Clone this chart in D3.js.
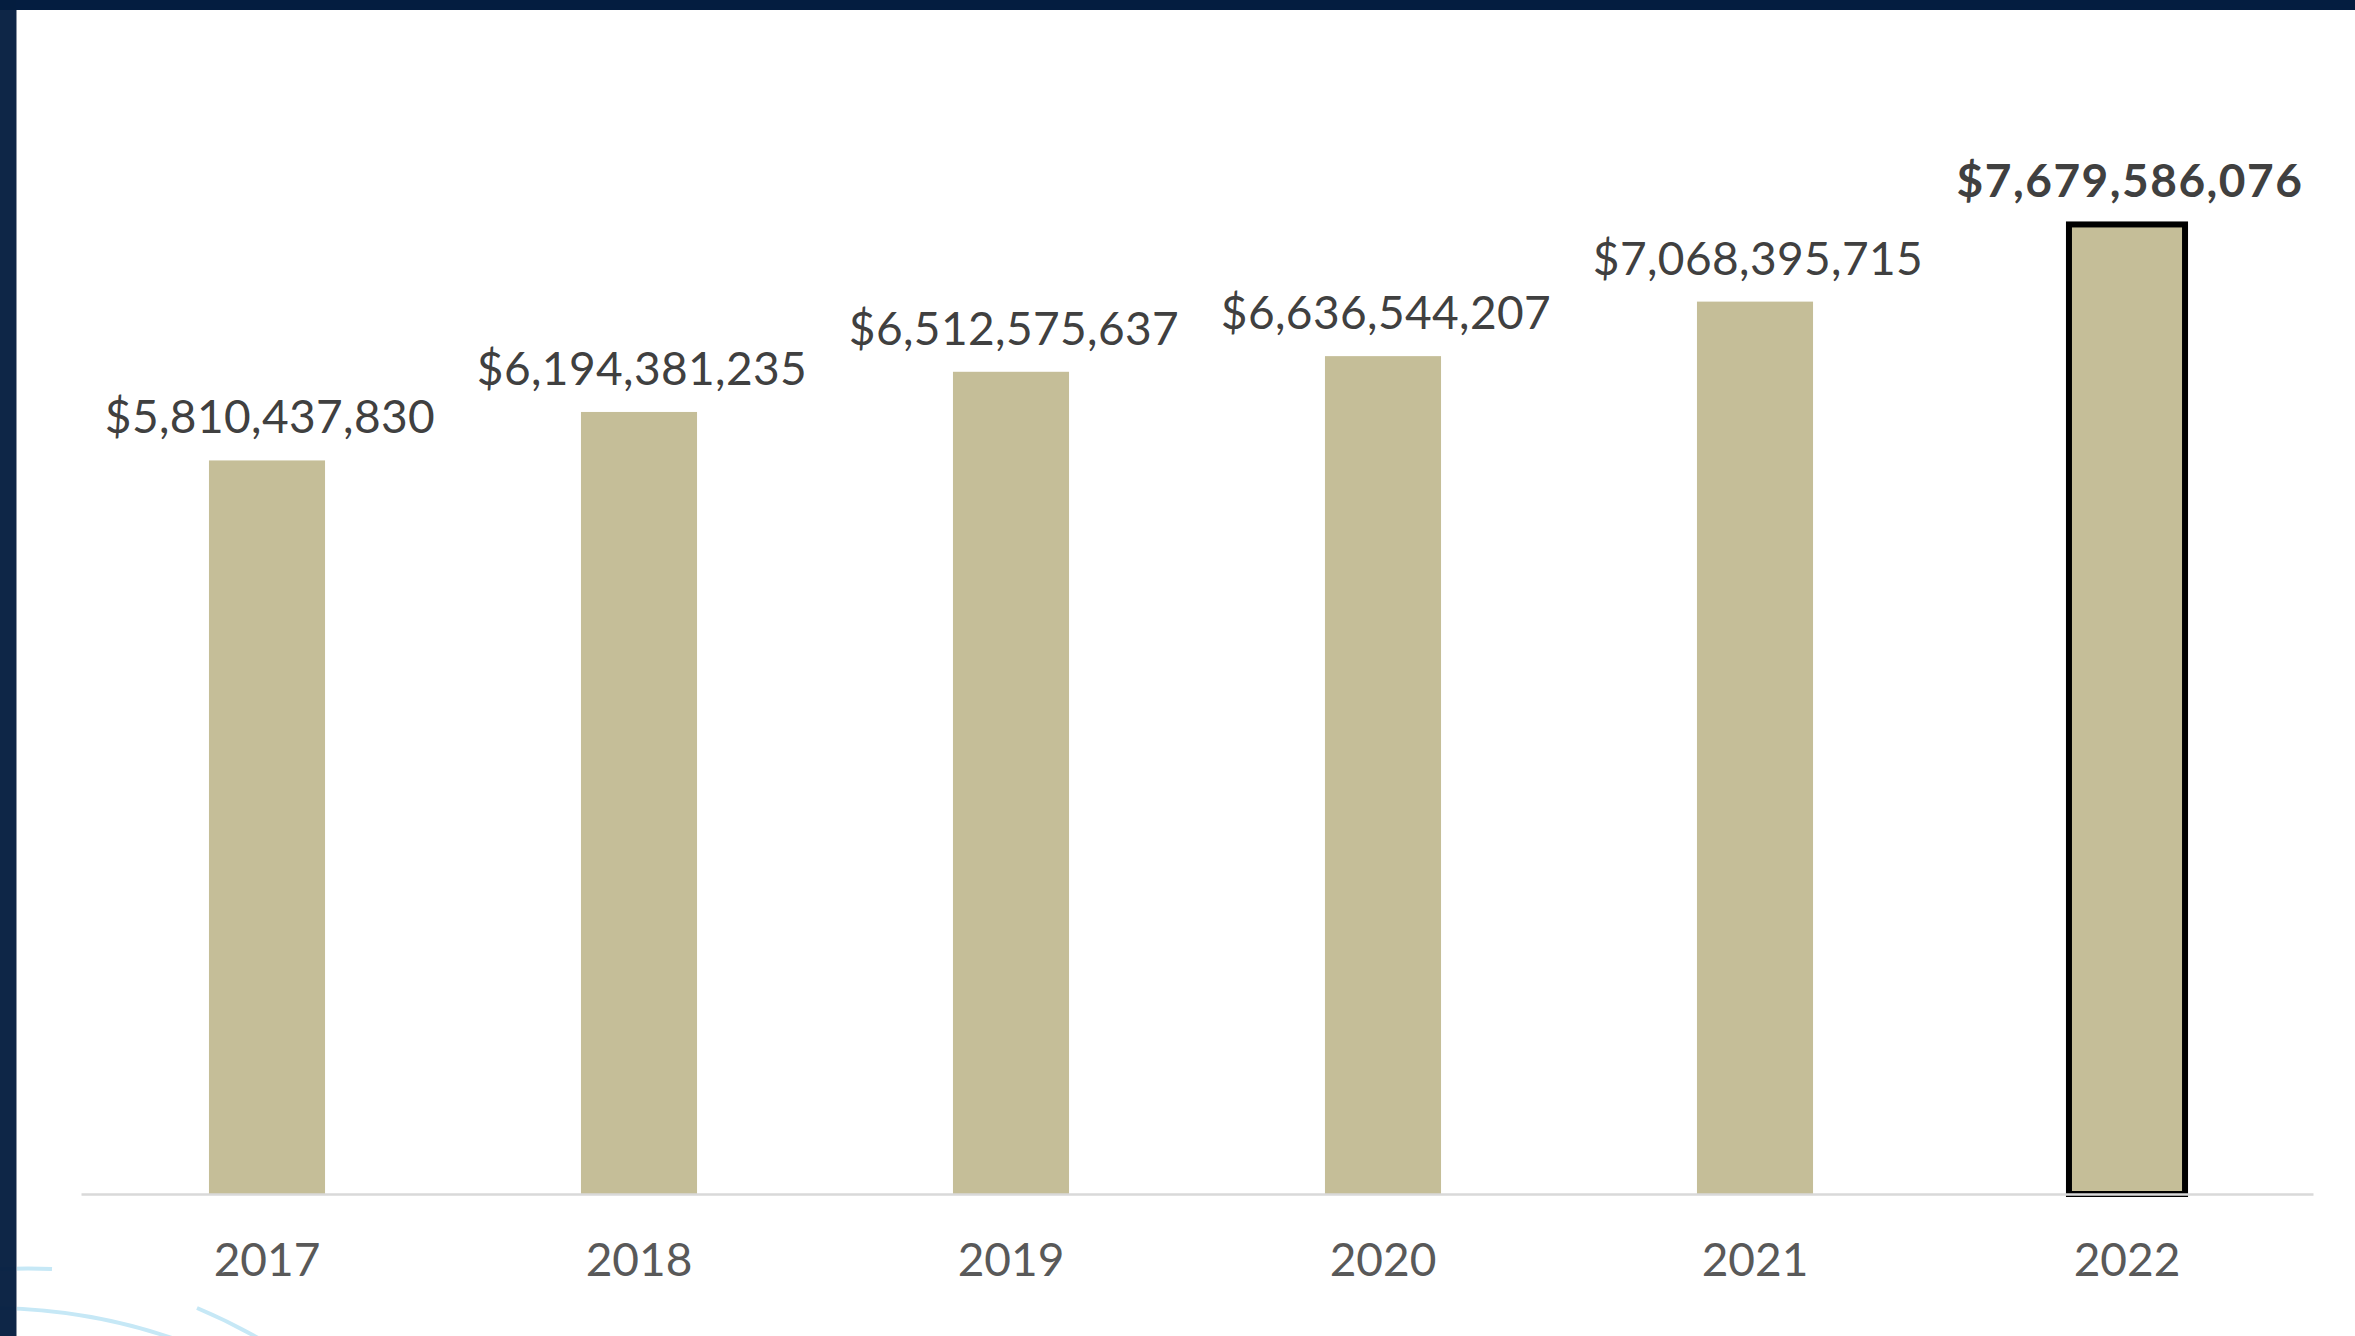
<!DOCTYPE html>
<html>
<head>
<meta charset="utf-8">
<script src="https://cdn.jsdelivr.net/npm/d3@7"></script>
<style>
  body { margin: 0; background: #ffffff; }
  svg { display: block; }
</style>
</head>
<body>
<div id="chart"></div>
<script>
// Data
const years = ["2017", "2018", "2019", "2020", "2021", "2022"];
const totals = [5810437830, 6194381235, 6512575637, 6636544207, 7068395715, 7679586076];
const highlightYear = "2022";

const width = 2355, height = 1336;
const svg = d3.select("#chart")
    .append("svg")
    .attr("width", width)
    .attr("height", height)
    .attr("viewBox", "0 0 " + width + " " + height);

// background
svg.append("rect")
    .attr("width", width)
    .attr("height", height)
    .style("fill", "#ffffff");

// decorative arcs, bottom left
const deco = svg.append("g")
    .style("fill", "none")
    .style("stroke", "#c6e8f6")
    .style("stroke-width", 4);
deco.append("path").attr("d", "M0,1269Q30,1268 52,1269");
deco.append("path").attr("d", "M0,1308Q90,1310 172,1338");
deco.append("path").attr("d", "M197,1308Q228,1321 258,1338");

// navy border (slightly see-through so the arcs show faintly)
svg.append("rect")
    .attr("x", 0).attr("y", 0)
    .attr("width", width).attr("height", 10)
    .style("fill", "#041d40");
svg.append("rect")
    .attr("x", 0).attr("y", 0)
    .attr("width", 16).attr("height", height)
    .style("fill", "#041d40")
    .style("fill-opacity", 0.96);
svg.append("line")
    .attr("x1", 16.5).attr("x2", 16.5)
    .attr("y1", 10).attr("y2", height)
    .style("stroke", "#8a93a3")
    .style("stroke-width", 1);

// Scales
const x = d3.scaleBand()
    .domain(years)
    .range([81, 2313])
    .paddingInner(0.688)
    .paddingOuter(0.344);

const y = d3.scaleLinear()
    .domain([0, 8e9])
    .range([1194, 184]);

const data = years.map((yr, i) => ({year: yr, value: totals[i]}));
const fmt = d3.format("$,.0f");

// Bars
svg.append("g")
    .selectAll("rect")
    .data(data)
    .enter()
    .append("rect")
    .attr("x", (d) => x(d.year))
    .attr("y", (d) => y(d.value))
    .attr("width", x.bandwidth())
    .attr("height", (d) => y(0) - y(d.value))
    .style("fill", "#c5be98")
    .style("stroke", (d) => d.year === highlightYear ? "#000000" : "none")
    .style("stroke-width", 6);

// Axis line + year labels
const axis = svg.append("g")
    .attr("transform", "translate(0," + y(0) + ")")
    .call(d3.axisBottom(x).tickSize(0).tickPadding(82).tickSizeOuter(0));
axis.select(".domain")
    .style("stroke", "#d9d9d9")
    .style("stroke-width", 2.5);
axis.selectAll("text")
    .attr("dy", 0)
    .style("font-family", "Lato, sans-serif")
    .style("font-size", "46px")
    .style("fill", "#595959");

// Value labels
svg.append("g")
    .selectAll("text")
    .data(data)
    .enter()
    .append("text")
    .attr("x", (d) => x(d.year) + x.bandwidth() / 2 + 3)
    .attr("y", (d) => y(d.value) - 27)
    .attr("text-anchor", "middle")
    .style("font-family", "Lato, sans-serif")
    .style("font-size", "46px")
    .style("font-weight", (d) => d.year === highlightYear ? "bold" : "normal")
    .style("letter-spacing", (d) => d.year === highlightYear ? "1.5px" : "0.4px")
    .style("fill", "#404040")
    .text((d) => fmt(d.value));
</script>
</body>
</html>
